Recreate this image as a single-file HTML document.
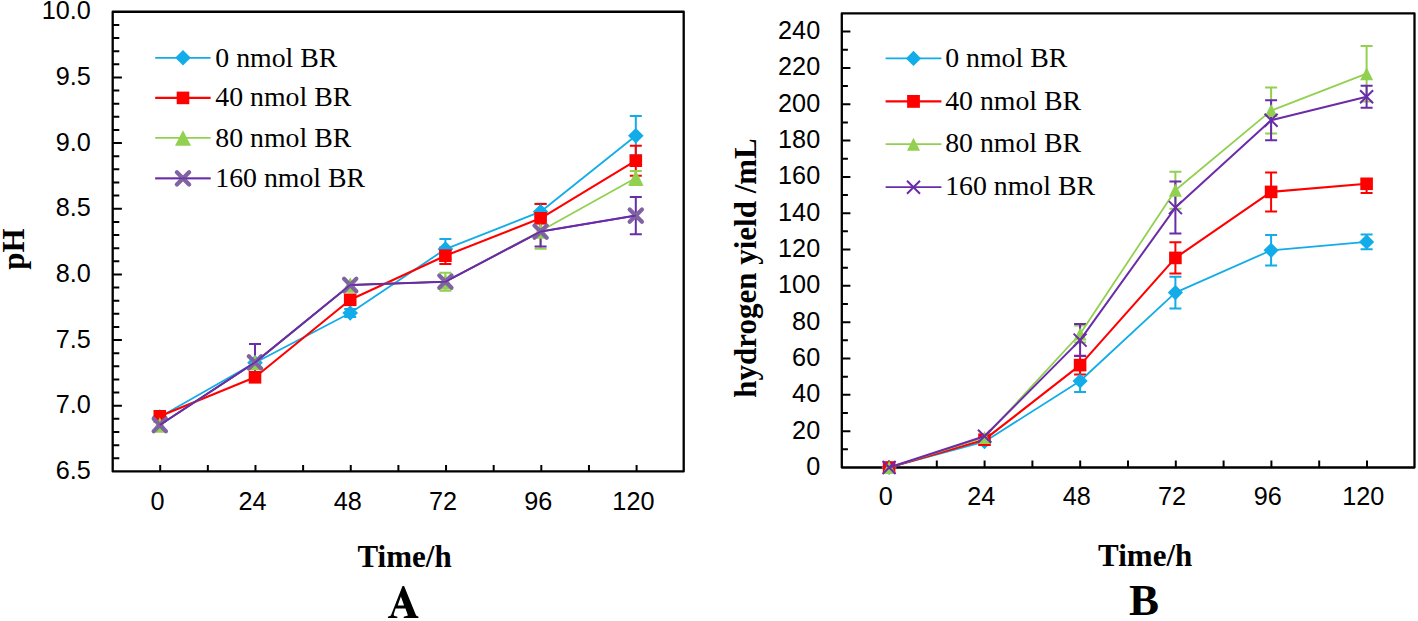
<!DOCTYPE html>
<html><head><meta charset="utf-8"><style>
html,body{margin:0;padding:0;background:#fff;width:1418px;height:621px;overflow:hidden}
svg{display:block}
.s{font-family:"Liberation Sans",sans-serif}
.r{font-family:"Liberation Serif",serif}

</style></head><body>
<svg width="1418" height="621" viewBox="0 0 1418 621">
<rect width="1418" height="621" fill="#fff"/>
<path d="M112.7 11.75H683.7V471.4H112.7Z" fill="none" stroke="#000" stroke-width="2.3" stroke-linejoin="round"/>
<path d="M112.7 77.41h9.2M112.7 143.08h9.2M112.7 208.74h9.2M112.7 274.41h9.2M112.7 340.07h9.2M112.7 405.74h9.2M112.7 24.88h6.6M112.7 38.02h6.6M112.7 51.15h6.6M112.7 64.28h6.6M112.7 90.55h6.6M112.7 103.68h6.6M112.7 116.81h6.6M112.7 129.95h6.6M112.7 156.21h6.6M112.7 169.34h6.6M112.7 182.48h6.6M112.7 195.61h6.6M112.7 221.88h6.6M112.7 235.01h6.6M112.7 248.14h6.6M112.7 261.27h6.6M112.7 287.54h6.6M112.7 300.67h6.6M112.7 313.81h6.6M112.7 326.94h6.6M112.7 353.2h6.6M112.7 366.34h6.6M112.7 379.47h6.6M112.7 392.6h6.6M112.7 418.87h6.6M112.7 432h6.6M112.7 445.13h6.6M112.7 458.27h6.6" stroke="#000" stroke-width="2" fill="none"/>
<path d="M160.2 471.4v-6.5M207.84 471.4v-6.5M255.48 471.4v-6.5M303.12 471.4v-6.5M350.76 471.4v-6.5M398.4 471.4v-6.5M446.04 471.4v-6.5M493.68 471.4v-6.5M541.32 471.4v-6.5M588.96 471.4v-6.5M636.6 471.4v-6.5" stroke="#000" stroke-width="2" fill="none"/>
<path d="M350.2 313V309M344.2 309h12M350.2 313V317M344.2 317h12" stroke="#12ACE8" stroke-width="2" fill="none"/>
<path d="M445.4 249.1V239.1M439.4 239.1h12M445.4 249.1V259.1M439.4 259.1h12" stroke="#12ACE8" stroke-width="2" fill="none"/>
<path d="M540.6 211.7V203.7M534.6 203.7h12M540.6 211.7V219.7M534.6 219.7h12" stroke="#12ACE8" stroke-width="2" fill="none"/>
<path d="M635.8 135.7V116.1M629.8 116.1h12M635.8 135.7V155.3M629.8 155.3h12" stroke="#12ACE8" stroke-width="2" fill="none"/>
<path d="M445.4 255.7V247.5M439.4 247.5h12M445.4 255.7V263.9M439.4 263.9h12" stroke="#FF0000" stroke-width="2" fill="none"/>
<path d="M540.6 218.3V204.1M534.6 204.1h12" stroke="#FF0000" stroke-width="2" fill="none"/>
<path d="M635.8 160.7V145.7M629.8 145.7h12M635.8 160.7V175.7M629.8 175.7h12" stroke="#FF0000" stroke-width="2" fill="none"/>
<path d="M445.4 281.7V272.7M439.4 272.7h12M445.4 281.7V290.7M439.4 290.7h12" stroke="#92D050" stroke-width="2" fill="none"/>
<path d="M540.6 231V213.2M534.6 213.2h12M540.6 231V248.8M534.6 248.8h12" stroke="#92D050" stroke-width="2" fill="none"/>
<path d="M635.8 178V171M629.8 171h12M635.8 178V185M629.8 185h12" stroke="#92D050" stroke-width="2" fill="none"/>
<path d="M255 362.4V344M249 344h12M255 362.4V380.8M249 380.8h12" stroke="#6A2CA8" stroke-width="2" fill="none"/>
<path d="M540.6 231.6V216.6M534.6 216.6h12M540.6 231.6V246.6M534.6 246.6h12" stroke="#6A2CA8" stroke-width="2" fill="none"/>
<path d="M635.8 215.6V197M629.8 197h12M635.8 215.6V234.2M629.8 234.2h12" stroke="#6A2CA8" stroke-width="2" fill="none"/>
<polyline points="159.8,417 255,362.8 350.2,313 445.4,249.1 540.6,211.7 635.8,135.7" fill="none" stroke="#12ACE8" stroke-width="1.8" stroke-linejoin="round"/>
<path d="M159.8 409.2L167.6 417L159.8 424.8L152 417Z" fill="#12ACE8"/>
<path d="M255 355L262.8 362.8L255 370.6L247.2 362.8Z" fill="#12ACE8"/>
<path d="M350.2 305.2L358 313L350.2 320.8L342.4 313Z" fill="#12ACE8"/>
<path d="M445.4 241.3L453.2 249.1L445.4 256.9L437.6 249.1Z" fill="#12ACE8"/>
<path d="M540.6 203.9L548.4 211.7L540.6 219.5L532.8 211.7Z" fill="#12ACE8"/>
<path d="M635.8 127.9L643.6 135.7L635.8 143.5L628 135.7Z" fill="#12ACE8"/>
<polyline points="159.8,416.3 255,377.3 350.2,299.8 445.4,255.7 540.6,218.3 635.8,160.7" fill="none" stroke="#FF0000" stroke-width="2.1" stroke-linejoin="round"/>
<rect x="153.5" y="410" width="12.6" height="12.6" fill="#FF0000"/>
<rect x="248.7" y="371" width="12.6" height="12.6" fill="#FF0000"/>
<rect x="343.9" y="293.5" width="12.6" height="12.6" fill="#FF0000"/>
<rect x="439.1" y="249.4" width="12.6" height="12.6" fill="#FF0000"/>
<rect x="534.3" y="212" width="12.6" height="12.6" fill="#FF0000"/>
<rect x="629.5" y="154.4" width="12.6" height="12.6" fill="#FF0000"/>
<polyline points="159.8,425 255,362.5 350.2,285 445.4,281.7 540.6,231 635.8,178" fill="none" stroke="#92D050" stroke-width="1.8" stroke-linejoin="round"/>
<path d="M159.8 417.25L167.55 432.75L152.05 432.75Z" fill="#92D050"/>
<path d="M255 354.75L262.75 370.25L247.25 370.25Z" fill="#92D050"/>
<path d="M350.2 277.25L357.95 292.75L342.45 292.75Z" fill="#92D050"/>
<path d="M445.4 273.95L453.15 289.45L437.65 289.45Z" fill="#92D050"/>
<path d="M540.6 223.25L548.35 238.75L532.85 238.75Z" fill="#92D050"/>
<path d="M635.8 170.25L643.55 185.75L628.05 185.75Z" fill="#92D050"/>
<polyline points="159.8,425 255,362.4 350.2,285 445.4,281.7 540.6,231.6 635.8,215.6" fill="none" stroke="#6A2CA8" stroke-width="2.0" stroke-linejoin="round"/>
<path d="M153.65 418.85L165.95 431.15M165.95 418.85L153.65 431.15" stroke="#8064A2" stroke-width="4.2" stroke-linecap="round" fill="none"/>
<path d="M248.85 356.25L261.15 368.55M261.15 356.25L248.85 368.55" stroke="#8064A2" stroke-width="4.2" stroke-linecap="round" fill="none"/>
<path d="M344.05 278.85L356.35 291.15M356.35 278.85L344.05 291.15" stroke="#8064A2" stroke-width="4.2" stroke-linecap="round" fill="none"/>
<path d="M439.25 275.55L451.55 287.85M451.55 275.55L439.25 287.85" stroke="#8064A2" stroke-width="4.2" stroke-linecap="round" fill="none"/>
<path d="M534.45 225.45L546.75 237.75M546.75 225.45L534.45 237.75" stroke="#8064A2" stroke-width="4.2" stroke-linecap="round" fill="none"/>
<path d="M629.65 209.45L641.95 221.75M641.95 209.45L629.65 221.75" stroke="#8064A2" stroke-width="4.2" stroke-linecap="round" fill="none"/>
<polyline points="159.8,425 255,362.4 350.2,285 445.4,281.7 540.6,231.6 635.8,215.6" fill="none" stroke="#6A2CA8" stroke-width="1.6" stroke-linejoin="round"/>
<path d="M155.2 57.8H210.6" stroke="#12ACE8" stroke-width="1.8"/>
<path d="M183 50L190.8 57.8L183 65.6L175.2 57.8Z" fill="#12ACE8"/>
<text x="215.3" y="66.8" class="r" font-size="27.8" fill="#000">0 nmol BR</text>
<path d="M155.2 97.9H210.6" stroke="#FF0000" stroke-width="2.2"/>
<rect x="176.7" y="91.6" width="12.6" height="12.6" fill="#FF0000"/>
<text x="215.3" y="106.4" class="r" font-size="27.8" fill="#000">40 nmol BR</text>
<path d="M155.2 137.9H210.6" stroke="#92D050" stroke-width="1.8"/>
<path d="M183 130.15L191 145.65L175 145.65Z" fill="#92D050"/>
<text x="215.3" y="147" class="r" font-size="27.8" fill="#000">80 nmol BR</text>
<path d="M155.2 178.4H210.6" stroke="#6A2CA8" stroke-width="1.8"/>
<path d="M176.9 172.3L189.1 184.5M189.1 172.3L176.9 184.5" stroke="#8064A2" stroke-width="4.3" stroke-linecap="round" fill="none"/>
<path d="M155.2 178.4H210.6" stroke="#6A2CA8" stroke-width="1.6" opacity="0.8"/>
<text x="215.3" y="186.6" class="r" font-size="27.8" fill="#000">160 nmol BR</text>
<path d="M841.8 13.4H1414.5V467.5H841.8Z" fill="none" stroke="#000" stroke-width="2.3" stroke-linejoin="round"/>
<path d="M841.8 431.17h8.6M841.8 394.84h8.6M841.8 358.52h8.6M841.8 322.19h8.6M841.8 285.86h8.6M841.8 249.53h8.6M841.8 213.2h8.6M841.8 176.88h8.6M841.8 140.55h8.6M841.8 104.22h8.6M841.8 67.89h8.6M841.8 31.56h8.6M841.8 449.34h6.1M841.8 413.01h6.1M841.8 376.68h6.1M841.8 340.35h6.1M841.8 304.02h6.1M841.8 267.7h6.1M841.8 231.37h6.1M841.8 195.04h6.1M841.8 158.71h6.1M841.8 122.38h6.1M841.8 86.06h6.1M841.8 49.73h6.1" stroke="#000" stroke-width="2" fill="none"/>
<path d="M889 467.5v-7M936.8 467.5v-7M984.6 467.5v-7M1032.4 467.5v-7M1080.2 467.5v-7M1128 467.5v-7M1175.8 467.5v-7M1223.6 467.5v-7M1271.4 467.5v-7M1319.2 467.5v-7M1367 467.5v-7" stroke="#000" stroke-width="2" fill="none"/>
<path d="M1080.1 381V370.1M1074.1 370.1h12M1080.1 381V391.9M1074.1 391.9h12" stroke="#12ACE8" stroke-width="2" fill="none"/>
<path d="M1175.4 292.6V276.8M1169.4 276.8h12M1175.4 292.6V308.4M1169.4 308.4h12" stroke="#12ACE8" stroke-width="2" fill="none"/>
<path d="M1271.1 250.3V235M1265.1 235h12M1271.1 250.3V265.6M1265.1 265.6h12" stroke="#12ACE8" stroke-width="2" fill="none"/>
<path d="M1366.6 241.9V234.5M1360.6 234.5h12M1366.6 241.9V249.3M1360.6 249.3h12" stroke="#12ACE8" stroke-width="2" fill="none"/>
<path d="M1080.1 365.1V355.7M1074.1 355.7h12M1080.1 365.1V374.5M1074.1 374.5h12" stroke="#FF0000" stroke-width="2" fill="none"/>
<path d="M1175.4 257.9V242.2M1169.4 242.2h12M1175.4 257.9V273.6M1169.4 273.6h12" stroke="#FF0000" stroke-width="2" fill="none"/>
<path d="M1271.1 191.9V172.4M1265.1 172.4h12M1271.1 191.9V211.4M1265.1 211.4h12" stroke="#FF0000" stroke-width="2" fill="none"/>
<path d="M1366.6 183.8V193M1360.6 193h12" stroke="#FF0000" stroke-width="2" fill="none"/>
<path d="M1080.1 334V325.5M1074.1 325.5h12M1080.1 334V342.5M1074.1 342.5h12" stroke="#92D050" stroke-width="2" fill="none"/>
<path d="M1175.4 190.3V171.8M1169.4 171.8h12M1175.4 190.3V208.8M1169.4 208.8h12" stroke="#92D050" stroke-width="2" fill="none"/>
<path d="M1271.1 110.6V87.6M1265.1 87.6h12M1271.1 110.6V133.6M1265.1 133.6h12" stroke="#92D050" stroke-width="2" fill="none"/>
<path d="M1366.6 73.7V45.9M1360.6 45.9h12M1366.6 73.7V101.5M1360.6 101.5h12" stroke="#92D050" stroke-width="2" fill="none"/>
<path d="M1080.1 340.1V324.1M1074.1 324.1h12M1080.1 340.1V356.1M1074.1 356.1h12" stroke="#6A2CA8" stroke-width="2" fill="none"/>
<path d="M1175.4 207.6V181.6M1169.4 181.6h12M1175.4 207.6V233.6M1169.4 233.6h12" stroke="#6A2CA8" stroke-width="2" fill="none"/>
<path d="M1271.1 120.3V100.3M1265.1 100.3h12M1271.1 120.3V140.3M1265.1 140.3h12" stroke="#6A2CA8" stroke-width="2" fill="none"/>
<path d="M1366.6 96.7V85.7M1360.6 85.7h12M1366.6 96.7V107.7M1360.6 107.7h12" stroke="#6A2CA8" stroke-width="2" fill="none"/>
<polyline points="889.1,467.5 984.5,441.7 1080.1,381 1175.4,292.6 1271.1,250.3 1366.6,241.9" fill="none" stroke="#12ACE8" stroke-width="1.8" stroke-linejoin="round"/>
<path d="M889.1 459.9L896.7 467.5L889.1 475.1L881.5 467.5Z" fill="#12ACE8"/>
<path d="M984.5 434.1L992.1 441.7L984.5 449.3L976.9 441.7Z" fill="#12ACE8"/>
<path d="M1080.1 373.4L1087.7 381L1080.1 388.6L1072.5 381Z" fill="#12ACE8"/>
<path d="M1175.4 285L1183 292.6L1175.4 300.2L1167.8 292.6Z" fill="#12ACE8"/>
<path d="M1271.1 242.7L1278.7 250.3L1271.1 257.9L1263.5 250.3Z" fill="#12ACE8"/>
<path d="M1366.6 234.3L1374.2 241.9L1366.6 249.5L1359 241.9Z" fill="#12ACE8"/>
<polyline points="889.1,467.5 984.5,439.7 1080.1,365.1 1175.4,257.9 1271.1,191.9 1366.6,183.8" fill="none" stroke="#FF0000" stroke-width="2.1" stroke-linejoin="round"/>
<rect x="882.8" y="461.2" width="12.6" height="12.6" fill="#FF0000"/>
<rect x="978.2" y="433.4" width="12.6" height="12.6" fill="#FF0000"/>
<rect x="1073.8" y="358.8" width="12.6" height="12.6" fill="#FF0000"/>
<rect x="1169.1" y="251.6" width="12.6" height="12.6" fill="#FF0000"/>
<rect x="1264.8" y="185.6" width="12.6" height="12.6" fill="#FF0000"/>
<rect x="1360.3" y="177.5" width="12.6" height="12.6" fill="#FF0000"/>
<polyline points="889.1,467.5 984.5,437.5 1080.1,334 1175.4,190.3 1271.1,110.6 1366.6,73.7" fill="none" stroke="#92D050" stroke-width="1.8" stroke-linejoin="round"/>
<path d="M889.1 461L895.6 474L882.6 474Z" fill="#92D050"/>
<path d="M984.5 431L991 444L978 444Z" fill="#92D050"/>
<path d="M1080.1 327.5L1086.6 340.5L1073.6 340.5Z" fill="#92D050"/>
<path d="M1175.4 183.8L1181.9 196.8L1168.9 196.8Z" fill="#92D050"/>
<path d="M1271.1 104.1L1277.6 117.1L1264.6 117.1Z" fill="#92D050"/>
<path d="M1366.6 67.2L1373.1 80.2L1360.1 80.2Z" fill="#92D050"/>
<polyline points="889.1,467.5 984.5,436.3 1080.1,340.1 1175.4,207.6 1271.1,120.3 1366.6,96.7" fill="none" stroke="#6A2CA8" stroke-width="2.0" stroke-linejoin="round"/>
<path d="M882.6 461L895.6 474M895.6 461L882.6 474" stroke="#6A2CA8" stroke-width="2" stroke-linecap="butt" fill="none"/>
<path d="M978 429.8L991 442.8M991 429.8L978 442.8" stroke="#6A2CA8" stroke-width="2" stroke-linecap="butt" fill="none"/>
<path d="M1073.6 333.6L1086.6 346.6M1086.6 333.6L1073.6 346.6" stroke="#6A2CA8" stroke-width="2" stroke-linecap="butt" fill="none"/>
<path d="M1168.9 201.1L1181.9 214.1M1181.9 201.1L1168.9 214.1" stroke="#6A2CA8" stroke-width="2" stroke-linecap="butt" fill="none"/>
<path d="M1264.6 113.8L1277.6 126.8M1277.6 113.8L1264.6 126.8" stroke="#6A2CA8" stroke-width="2" stroke-linecap="butt" fill="none"/>
<path d="M1360.1 90.2L1373.1 103.2M1373.1 90.2L1360.1 103.2" stroke="#6A2CA8" stroke-width="2" stroke-linecap="butt" fill="none"/>
<path d="M885.6 58.4H941.4" stroke="#12ACE8" stroke-width="1.8"/>
<path d="M913.5 50.8L921.1 58.4L913.5 66L905.9 58.4Z" fill="#12ACE8"/>
<text x="945.2" y="67" class="r" font-size="27.8" fill="#000">0 nmol BR</text>
<path d="M885.6 101.4H941.4" stroke="#FF0000" stroke-width="2.2"/>
<rect x="907.1" y="95" width="12.8" height="12.8" fill="#FF0000"/>
<text x="945.2" y="109.6" class="r" font-size="27.8" fill="#000">40 nmol BR</text>
<path d="M885.6 144.2H941.4" stroke="#92D050" stroke-width="1.8"/>
<path d="M913.5 137.7L920 150.7L907 150.7Z" fill="#92D050"/>
<text x="945.2" y="152.3" class="r" font-size="27.8" fill="#000">80 nmol BR</text>
<path d="M885.6 187.2H941.4" stroke="#6A2CA8" stroke-width="1.8"/>
<path d="M907 180.7L920 193.7M920 180.7L907 193.7" stroke="#6A2CA8" stroke-width="2" stroke-linecap="butt" fill="none"/>
<text x="945.2" y="195" class="r" font-size="27.8" fill="#000">160 nmol BR</text>
<text transform="translate(90.8 19.25) scale(1.01 1)" text-anchor="end" class="s" font-size="25" fill="#000">10.0</text>
<text transform="translate(90.8 84.91) scale(1.01 1)" text-anchor="end" class="s" font-size="25" fill="#000">9.5</text>
<text transform="translate(90.8 150.58) scale(1.01 1)" text-anchor="end" class="s" font-size="25" fill="#000">9.0</text>
<text transform="translate(90.8 216.24) scale(1.01 1)" text-anchor="end" class="s" font-size="25" fill="#000">8.5</text>
<text transform="translate(90.8 281.91) scale(1.01 1)" text-anchor="end" class="s" font-size="25" fill="#000">8.0</text>
<text transform="translate(90.8 347.57) scale(1.01 1)" text-anchor="end" class="s" font-size="25" fill="#000">7.5</text>
<text transform="translate(90.8 413.24) scale(1.01 1)" text-anchor="end" class="s" font-size="25" fill="#000">7.0</text>
<text transform="translate(90.8 478.9) scale(1.01 1)" text-anchor="end" class="s" font-size="25" fill="#000">6.5</text>
<text transform="translate(157.4 510) scale(1.01 1)" text-anchor="middle" class="s" font-size="25" fill="#000">0</text>
<text transform="translate(252.6 510) scale(1.01 1)" text-anchor="middle" class="s" font-size="25" fill="#000">24</text>
<text transform="translate(347.8 510) scale(1.01 1)" text-anchor="middle" class="s" font-size="25" fill="#000">48</text>
<text transform="translate(443 510) scale(1.01 1)" text-anchor="middle" class="s" font-size="25" fill="#000">72</text>
<text transform="translate(538.2 510) scale(1.01 1)" text-anchor="middle" class="s" font-size="25" fill="#000">96</text>
<text transform="translate(633.4 510) scale(1.01 1)" text-anchor="middle" class="s" font-size="25" fill="#000">120</text>
<text transform="translate(820.2 475) scale(1.01 1)" text-anchor="end" class="s" font-size="25" fill="#000">0</text>
<text transform="translate(820.2 438.67) scale(1.01 1)" text-anchor="end" class="s" font-size="25" fill="#000">20</text>
<text transform="translate(820.2 402.34) scale(1.01 1)" text-anchor="end" class="s" font-size="25" fill="#000">40</text>
<text transform="translate(820.2 366.02) scale(1.01 1)" text-anchor="end" class="s" font-size="25" fill="#000">60</text>
<text transform="translate(820.2 329.69) scale(1.01 1)" text-anchor="end" class="s" font-size="25" fill="#000">80</text>
<text transform="translate(820.2 293.36) scale(1.01 1)" text-anchor="end" class="s" font-size="25" fill="#000">100</text>
<text transform="translate(820.2 257.03) scale(1.01 1)" text-anchor="end" class="s" font-size="25" fill="#000">120</text>
<text transform="translate(820.2 220.7) scale(1.01 1)" text-anchor="end" class="s" font-size="25" fill="#000">140</text>
<text transform="translate(820.2 184.38) scale(1.01 1)" text-anchor="end" class="s" font-size="25" fill="#000">160</text>
<text transform="translate(820.2 148.05) scale(1.01 1)" text-anchor="end" class="s" font-size="25" fill="#000">180</text>
<text transform="translate(820.2 111.72) scale(1.01 1)" text-anchor="end" class="s" font-size="25" fill="#000">200</text>
<text transform="translate(820.2 75.39) scale(1.01 1)" text-anchor="end" class="s" font-size="25" fill="#000">220</text>
<text transform="translate(820.2 39.06) scale(1.01 1)" text-anchor="end" class="s" font-size="25" fill="#000">240</text>
<text transform="translate(885.8 505) scale(1.01 1)" text-anchor="middle" class="s" font-size="25" fill="#000">0</text>
<text transform="translate(981.2 505) scale(1.01 1)" text-anchor="middle" class="s" font-size="25" fill="#000">24</text>
<text transform="translate(1076.8 505) scale(1.01 1)" text-anchor="middle" class="s" font-size="25" fill="#000">48</text>
<text transform="translate(1172.1 505) scale(1.01 1)" text-anchor="middle" class="s" font-size="25" fill="#000">72</text>
<text transform="translate(1267.8 505) scale(1.01 1)" text-anchor="middle" class="s" font-size="25" fill="#000">96</text>
<text transform="translate(1363.3 505) scale(1.01 1)" text-anchor="middle" class="s" font-size="25" fill="#000">120</text>
<text transform="translate(23.6 249) rotate(-90)" text-anchor="middle" font-size="31" class="r" font-weight="bold" fill="#000">pH</text>
<text transform="translate(756.3 268) rotate(-90)" text-anchor="middle" font-size="31" class="r" font-weight="bold" fill="#000">hydrogen yield /mL</text>
<text x="404.6" y="566.8" text-anchor="middle" font-size="31" class="r" font-weight="bold" fill="#000">Time/h</text>
<text x="1145.2" y="566.1" text-anchor="middle" font-size="31" class="r" font-weight="bold" fill="#000">Time/h</text>
<path fill-rule="evenodd" fill="#000" d="M402.5 586.1L404.1 586.1L416.1 615.5L418.5 616.7L418.5 618.1L403.7 618.1L403.7 616.7L407.9 615.6L405.5 608.6L395.6 608.6L393.7 614.2L394 615.8L397.4 616.7L397.4 618.1L387.9 618.1L387.9 616.7L390.9 615.5ZM400.9 596.6L404.1 605.6L397.7 605.6Z"/>
<text x="1144.1" y="615.3" text-anchor="middle" font-size="45" class="r" font-weight="bold" fill="#000">B</text>
</svg>
</body></html>
